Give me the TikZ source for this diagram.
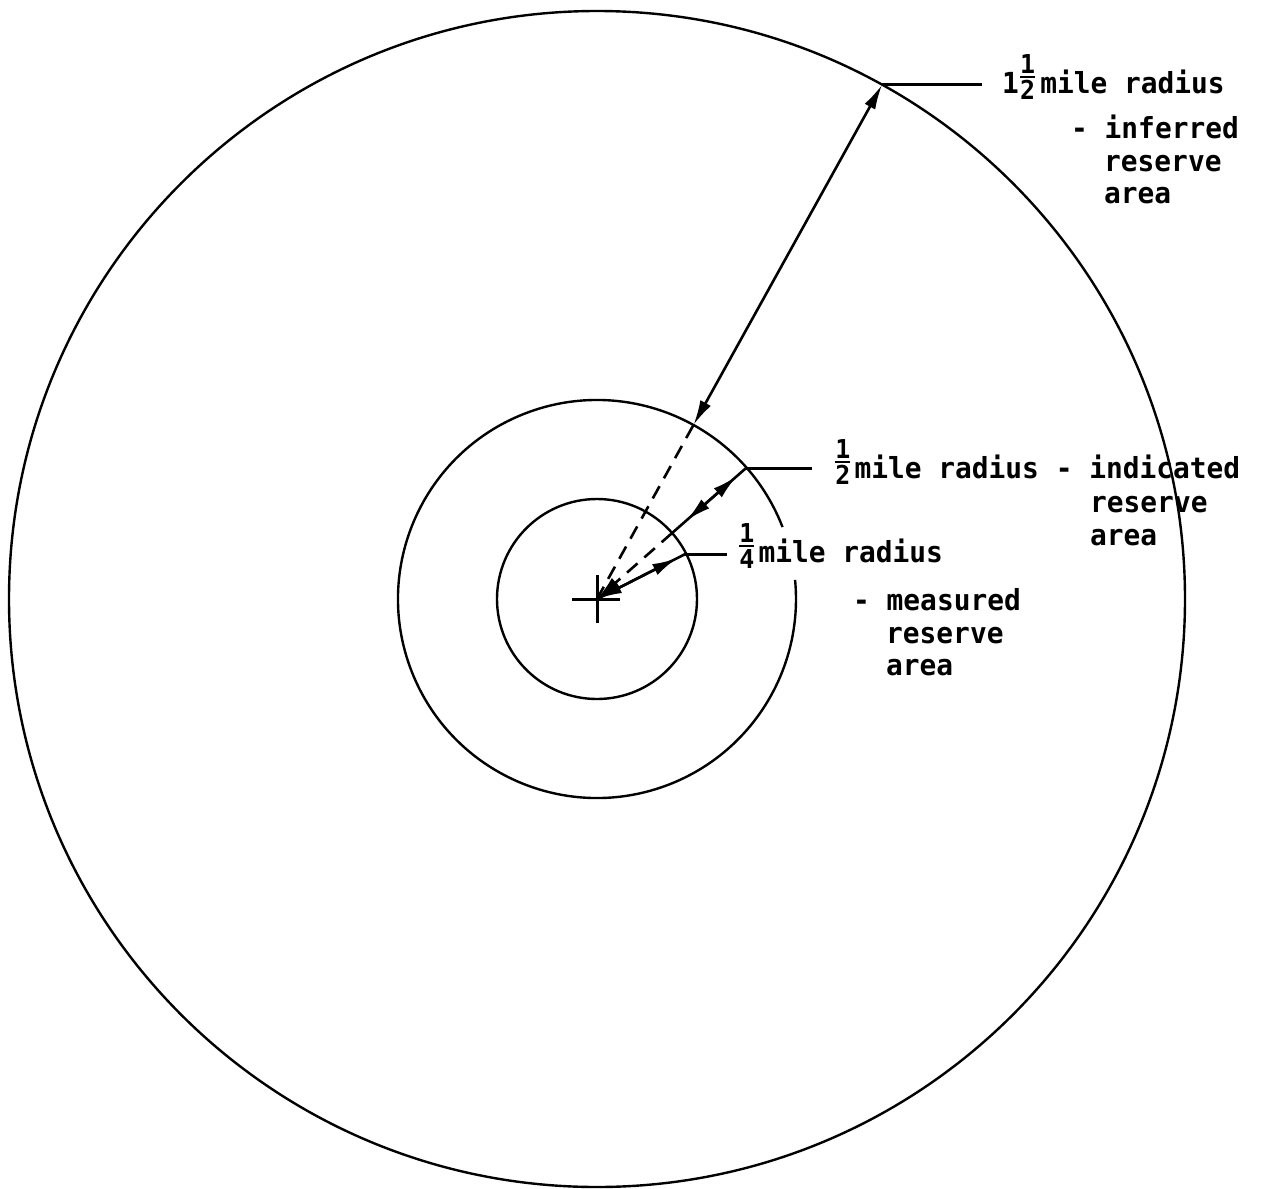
\documentclass[tikz,border=0pt]{standalone}
\usepackage{amsmath}
\usepackage{fontspec}
\usetikzlibrary{arrows.meta,calc}
\newfontfamily\lgfont[FakeStretch=0.96]{DejaVu Sans Mono}
\newcommand\fr[2]{\raisebox{9.5pt}{$\genfrac{}{}{2.2pt}{1}{\hbox{\lgfont\bfseries\fontsize{26}{26}\selectfont #1}}{\hbox{\lgfont\bfseries\fontsize{26}{26}\selectfont #2}}$}}
\begin{document}
\begin{tikzpicture}[x=1pt,y=1pt,
  ring/.style={line width=2.4pt},
  dim/.style={line width=2.6pt},
  dsh/.style={dash pattern=on 14pt off 9pt},
  lead/.style={line width=3pt},
  >={Latex[length=25pt,width=12pt]},
  lbl/.style={anchor=base west,inner sep=0pt,font=\lgfont\bfseries\fontsize{29}{32}\selectfont}]
\useasboundingbox (0,0) rectangle (1270,-1189);
\coordinate (O) at (597,-599);
% circles
\draw[ring] (O) circle[radius=100];
\draw[ring] ($(O)+(21.2:199)$) arc[start angle=21.2,end angle=365.5,radius=199];
\draw[ring] (O) circle[radius=588];
% centre cross
\draw[lead] ($(O)+(-25,0)$) -- ($(O)+(23,0)$);
\draw[lead] ($(O)+(0,24)$) -- ($(O)+(0,-24)$);
% dimension points
\coordinate (A1) at ($(O)+(61:199)$);
\coordinate (A2) at ($(O)+(61:588)$);
\coordinate (B1) at ($(O)+(41.3:100)$);
\coordinate (B2) at ($(O)+(41.3:198)$);
\coordinate (B1a) at ($(O)+(41.3:119)$);
\coordinate (B2a) at ($(O)+(41.3:186)$);
\coordinate (C2) at ($(O)+(27:99)$);
\coordinate (C2a) at ($(O)+(27:90)$);
% 1 1/2 mile
\draw[dim,<->] (A1) -- (A2);
\draw[dim,dsh] (O) -- (A1);
% 1/2 mile
\draw[dim] (B1) -- (B2);
\draw[dim,<->] (B1a) -- (B2a);
\draw[dim,dsh,->] (B1) -- (O);
% 1/4 mile
\draw[dim] (O) -- (C2);
\draw[dim,<->] (O) -- (C2a);
% leaders
\coordinate (L1) at (982,0);
\coordinate (L2) at (812,0);
\coordinate (L3) at (727,0);
\draw[lead] (A2) -- (A2 -| L1);
\draw[lead] (B2) -- (B2 -| L2);
\draw[lead] (C2) -- (C2 -| L3);
% labels
\node[lbl] (t1) at (1002,-93) {1\fr{1}{2}\hspace{4pt}mile radius};
\node[lbl] (t1b) at (1071,-138) {- inferred};
\node[lbl] (t1c) at (1104,-171) {reserve};
\node[lbl] (t1d) at (1104,-203) {area};
\node[lbl] (t2) at (834,-478) {\fr{1}{2}\hspace{3pt}mile radius - indicated};
\node[lbl] (t2b) at (1090,-512) {reserve};
\node[lbl] (t2c) at (1090,-545) {area};
\node[lbl] (t3) at (738,-562) {\fr{1}{4}\hspace{3pt}mile radius};
\node[lbl] (t3b) at (853,-610) {- measured};
\node[lbl] (t3c) at (886,-643) {reserve};
\node[lbl] (t3d) at (886,-675) {area};
\end{tikzpicture}
\end{document}
